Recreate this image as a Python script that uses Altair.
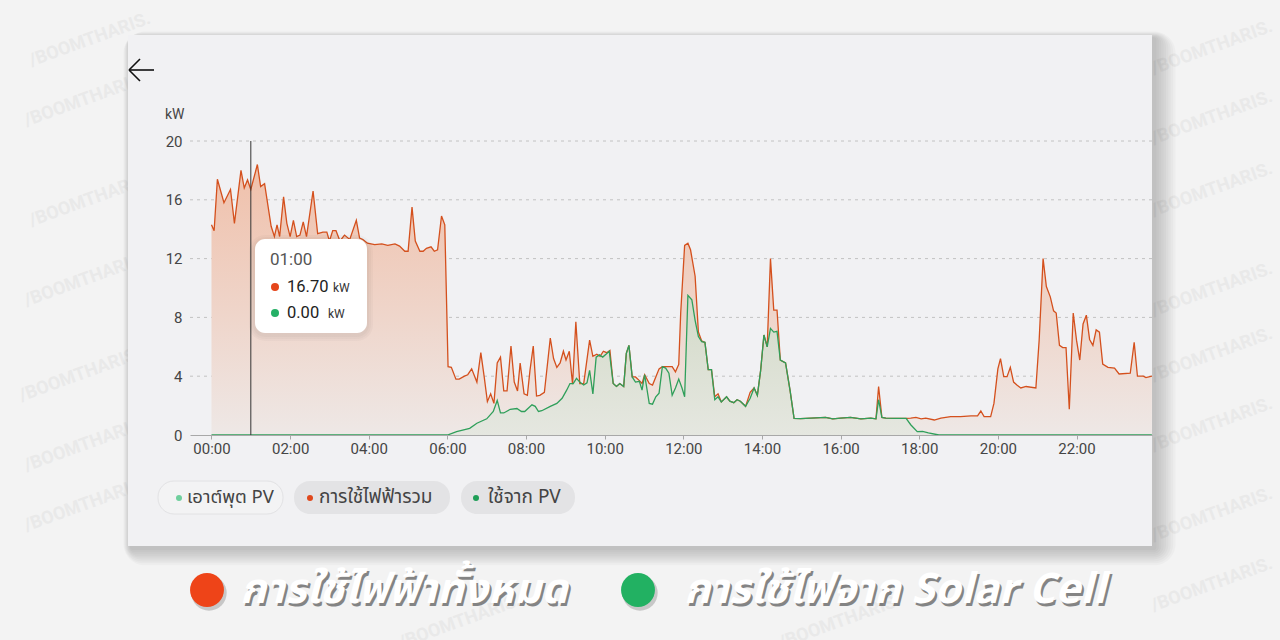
import altair as alt
import pandas as pd

# ---------------- data ----------------
total_time = ["00:00","00:04","00:09","00:19","00:29","00:35","00:45","00:50","00:55","01:00",
              "01:10","01:15","01:21","01:31","01:36","01:40","01:44","01:50","01:55","02:00",
              "02:05","02:10","02:15","02:20","02:25","02:35","02:42","02:50","02:56","03:00",
              "03:05","03:10","03:16","03:23","03:31","03:41","03:46","03:51","03:58","04:09",
              "04:20","04:29","04:40","04:47","04:55","05:00","05:06","05:11","05:18","05:23",
              "05:28","05:35","05:40","05:45","05:51","05:56","06:01","06:06","06:13","06:18",
              "06:26","06:31","06:37","06:45","06:51","06:56","07:01","07:06","07:11","07:16",
              "07:21","07:26","07:31","07:37","07:42","07:47","07:51","07:57","08:02","08:06",
              "08:11","08:16","08:21","08:28","08:37","08:42","08:47","08:52","08:57","09:01",
              "09:06","09:11","09:16","09:22","09:28","09:37","09:42","09:48","09:53","09:58",
              "10:03","10:08","10:13","10:18","10:23","10:29","10:33","10:37","10:42","10:47",
              "10:53","10:57","11:01","11:08","11:13","11:18","11:23","11:28","11:33","11:38",
              "11:43","11:48","11:53","11:56","12:02","12:07","12:11","12:18","12:23","12:28",
              "12:33","12:38","12:43","12:48","12:53","12:58","13:06","13:11","13:17","13:22",
              "13:27","13:35","13:42","13:48","13:53","13:58","14:03","14:08","14:13","14:18",
              "14:23","14:28","14:36","14:43","14:49","14:59","15:15","15:37","15:48","16:00",
              "16:15","16:31","16:46","16:54","16:58","17:03","17:09","17:24","17:40","17:47",
              "17:55","18:03","18:10","18:23","18:33","18:48","19:03","19:19","19:29","19:34",
              "19:39","19:49","19:54","20:00","20:04","20:09","20:14","20:19","20:24","20:29",
              "20:35","20:43","20:58","21:03","21:09","21:14","21:20","21:25","21:29","21:34",
              "21:39","21:44","21:49","21:55","22:00","22:05","22:10","22:15","22:20","22:25",
              "22:30","22:35","22:40","22:48","22:58","23:05","23:22","23:28","23:33","23:42",
              "23:46","23:55"]
total_kw = [14.3,13.9,17.4,15.8,16.7,14.4,18.0,16.8,17.35,16.7,
            18.4,16.9,17.1,14.2,13.5,14.3,13.5,16.2,14.4,13.5,
            14.6,13.5,13.6,14.5,13.5,16.6,13.7,13.8,13.8,13.2,
            13.9,13.9,13.2,13.6,13.3,14.6,13.4,13.3,13.05,12.95,
            13.0,12.9,13.0,12.85,12.5,12.5,15.5,13.2,12.5,12.5,
            12.7,12.8,12.5,12.6,14.9,14.3,4.65,4.6,3.8,3.8,
            4.0,4.1,4.5,3.6,5.6,4.0,2.27,2.8,2.15,4.9,
            5.3,3.0,3.0,6.05,3.6,3.0,4.9,2.8,2.7,4.4,
            6.05,2.65,2.7,2.9,6.6,5.2,4.6,4.9,5.7,5.1,
            5.7,3.45,7.7,3.5,3.5,6.45,5.35,5.5,5.35,5.7,
            5.6,5.75,3.5,3.3,3.5,3.3,5.55,6.1,3.95,3.95,
            3.7,3.5,4.1,3.5,3.4,3.95,4.5,4.65,4.65,4.65,
            4.65,4.3,4.8,8.3,12.9,13.05,12.6,10.8,7.0,6.4,
            6.3,4.45,4.45,2.6,2.8,2.25,2.6,2.3,2.2,2.4,
            2.3,1.95,2.9,3.2,2.7,4.4,6.8,6.0,12.0,8.5,
            8.5,5.1,4.9,3.0,1.13,1.12,1.15,1.2,1.1,1.15,
            1.2,1.1,1.15,1.1,3.3,1.2,1.15,1.13,1.13,1.15,
            1.2,1.1,1.15,1.02,1.15,1.25,1.25,1.3,1.3,1.63,
            1.25,1.25,2.15,4.5,5.2,3.97,3.97,4.6,3.6,3.4,
            3.2,3.3,3.2,6.45,12.0,10.1,9.4,8.45,8.3,6.1,
            5.95,5.95,1.75,8.3,6.45,5.1,7.55,8.15,6.5,6.1,
            7.15,7.0,4.83,4.6,4.55,4.15,4.2,6.3,4.0,4.0,
            3.9,4.0]

pv_time = ["00:00","06:00","06:14","06:34","06:45","07:00","07:10","07:16","07:21","07:26",
           "07:36","07:46","07:53","07:58","08:09","08:14","08:19","08:24","08:37","08:47",
           "08:55","09:02","09:07","09:12","09:17","09:22","09:28","09:33","09:37","09:42",
           "09:47","09:52","09:57","10:02","10:07","10:13","10:18","10:23","10:29","10:33",
           "10:37","10:42","10:47","10:53","10:57","11:01","11:08","11:13","11:18","11:23",
           "11:28","11:33","11:38","11:43","11:48","11:53","11:58","12:02","12:07","12:13",
           "12:18","12:23","12:28","12:33","12:38","12:43","12:48","12:53","12:58","13:06",
           "13:11","13:17","13:22","13:27","13:35","13:42","13:48","13:53","13:58","14:03",
           "14:08","14:13","14:18","14:23","14:28","14:36","14:43","14:49","14:59","15:15",
           "15:37","15:48","16:00","16:15","16:31","16:46","16:54","16:58","17:03","17:09",
           "17:24","17:40","17:47","17:57","18:05","18:14","18:30","23:55"]
pv_kw = [0,0,0.23,0.45,0.8,1.1,1.6,2.35,1.5,1.5,
         1.75,1.8,1.6,1.6,2.05,1.95,1.6,1.65,1.95,2.15,
         2.5,3.05,3.5,3.5,3.85,3.6,3.4,3.55,4.4,2.8,
         5.3,5.45,5.3,5.5,5.7,3.5,3.3,3.5,3.3,5.55,
         6.1,3.95,3.6,3.65,3.05,4.1,2.15,2.1,2.6,2.85,
         4.65,4.55,4.2,2.7,3.2,3.8,3.2,2.6,9.5,9.2,
         7.8,6.7,6.35,6.3,4.45,4.45,2.4,2.6,2.25,2.6,
         2.3,2.2,2.4,2.3,1.95,2.5,3.2,2.7,4.4,6.8,
         6.0,7.25,7.0,7.05,5.1,4.9,3.0,1.13,1.12,1.15,
         1.2,1.1,1.15,1.2,1.1,1.15,1.1,2.4,1.2,1.15,
         1.13,1.13,0.7,0.23,0.25,0.15,0,0]

x_ticks = ["00:00","02:00","04:00","06:00","08:00","10:00","12:00","14:00","16:00","18:00","20:00","22:00"]
y_ticks = [0, 4, 8, 12, 16, 20]
grid_values = [4, 8, 12, 16, 20]

hover_time = "01:00"
hover_total = 16.70
hover_pv = 0.00

chip_labels = ["เอาต์พุต PV", "การใช้ไฟฟ้ารวม", "ใช้จาก PV"]
big_labels = ["การใช้ไฟฟ้าทั้งหมด", "การใช้ไฟจาก Solar Cell"]
watermark = "/BOOMTHARIS."


def to_min(s):
    h, m = s.split(":")
    return int(h) * 60 + int(m)


df_total = pd.DataFrame({"t": [to_min(s) for s in total_time], "kw": total_kw})
df_pv = pd.DataFrame({"t": [to_min(s) for s in pv_time], "kw": pv_kw})
df_grid = pd.DataFrame({"g": grid_values})
df_hover = pd.DataFrame({"t": [to_min(hover_time)]})
one = pd.DataFrame({"a": [0]})

# ---------------- style ----------------
RED = "#d4501d"
GREEN = "#2f9f5a"
TEXT = "#454545"
THAI = "Noto Sans Thai, Noto Sans, sans-serif"
FONT = "Roboto, Noto Sans Thai, sans-serif"

W, H = 962, 294
xscale = alt.Scale(domain=[-32.8, 1435.2], nice=False, zero=False)
yscale = alt.Scale(domain=[0, 20], nice=False, zero=True)


def px_rect(x, x2, y, y2, **mk):
    return alt.Chart(one).mark_rect(**mk).encode(
        x=alt.value(x), x2=alt.value(x2), y=alt.value(y), y2=alt.value(y2))


def px_text(x, y, text, **mk):
    return alt.Chart(one).mark_text(text=text, **mk).encode(x=alt.value(x), y=alt.value(y))


def px_dot(x, y, color, size, opacity=1):
    return alt.Chart(one).mark_circle(color=color, opacity=opacity, size=size).encode(
        x=alt.value(x), y=alt.value(y))


def px_rule(x, x2, y, y2, **mk):
    return alt.Chart(one).mark_rule(**mk).encode(
        x=alt.value(x), x2=alt.value(x2), y=alt.value(y), y2=alt.value(y2))


layers = []

# faint watermark on the page background, behind the card
wm_pts = [(90, 40), (1212, 48), (85, 100), (1212, 118), (90, 200),
          (1212, 190), (85, 280), (1212, 290), (80, 375), (1212, 355),
          (85, 445), (1212, 425), (85, 505), (1212, 515), (1212, 585), (460, 622), (840, 622)]
df_wm = pd.DataFrame({"px": [p[0] - 190 for p in wm_pts], "py": [p[1] - 141 for p in wm_pts]})
layers.append(alt.Chart(df_wm).mark_text(text=watermark, angle=340, fontSize=18, fontWeight="bold",
                                         font=FONT, color="#e9e9e9").encode(
    x=alt.X("px:Q", scale=None), y=alt.Y("py:Q", scale=None)))

# card shadow + card
CX0, CX1, CY0, CY1 = -62, 962, -106, 405
for i in range(9):
    e = 2.4 * (i + 1)
    layers.append(px_rect(CX0 - e * 0.35 + 3, CX1 + e + 2, CY0 - e * 0.3 + 3, CY1 + e * 0.8 + 2,
                          color="#000000", opacity=0.022, cornerRadius=e))
layers.append(px_rect(CX0, CX1, CY0, CY1, color="#f1f1f3"))

# grid lines
layers.append(alt.Chart(df_grid).mark_rule(color="#c2c2c2", strokeDash=[3, 4], strokeWidth=1).encode(
    y=alt.Y("g:Q", scale=yscale)))

x_enc = alt.X("t:Q", scale=xscale, title=None,
              axis=alt.Axis(values=[to_min(s) for s in x_ticks],
                            labelExpr="(datum.value < 600 ? '0' : '') + floor(datum.value/60) + ':00'",
                            grid=False, domain=True, domainColor="#a8a8a8", ticks=True, tickSize=4,
                            tickColor="#a8a8a8", labelFontSize=15, labelColor=TEXT, labelFont=FONT,
                            labelPadding=2, zindex=1))
y_enc = alt.Y("kw:Q", scale=yscale, title=None,
              axis=alt.Axis(values=y_ticks, grid=False, domain=False, ticks=False, labelFontSize=15,
                            labelColor=TEXT, labelFont=FONT, labelPadding=8, zindex=1))

red_grad = alt.Gradient(gradient="linear", x1=1, x2=1, y1=0, y2=1,
                        stops=[alt.GradientStop(color="#f0c0aa", offset=0),
                               alt.GradientStop(color="#efd5ca", offset=0.55),
                               alt.GradientStop(color="#eee8e6", offset=1)])
green_grad = alt.Gradient(gradient="linear", x1=1, x2=1, y1=0, y2=1,
                          stops=[alt.GradientStop(color="#d3dac8", offset=0),
                                 alt.GradientStop(color="#e5e7e0", offset=1)])

layers.append(alt.Chart(df_total).mark_area(color=red_grad, interpolate="linear").encode(x=x_enc, y=y_enc))
layers.append(alt.Chart(df_pv).mark_area(color=green_grad, interpolate="linear").encode(x=x_enc, y=y_enc))
layers.append(alt.Chart(df_total).mark_line(color=RED, strokeWidth=1.3).encode(x=x_enc, y=y_enc))
layers.append(alt.Chart(df_pv).mark_line(color=GREEN, strokeWidth=1.3).encode(x=x_enc, y=y_enc))

# hover line
layers.append(alt.Chart(df_hover).mark_rule(color="#333333", strokeWidth=1).encode(
    x=alt.X("t:Q", scale=xscale), y=alt.datum(0, scale=yscale), y2=alt.datum(20)))

# tooltip box
for i in range(3):
    d = 2 * (i + 1)
    layers.append(px_rect(65 - d, 177 + d, 98 - d + 2, 192 + d + 2, color="#000000", opacity=0.022,
                          cornerRadius=10 + d))
layers.append(px_rect(65, 177, 98, 192, color="#ffffff", cornerRadius=10))
layers.append(px_text(80, 119, hover_time, align="left", baseline="middle", fontSize=17, color="#555555", font=FONT))
layers.append(px_dot(85, 146, "#e5461b", 64))
layers.append(px_text(97, 146, f"{hover_total:.2f}", align="left", baseline="middle", fontSize=16.5, color="#222222", font=FONT))
layers.append(px_text(143, 147, "kW", align="left", baseline="middle", fontSize=12, color="#333333", font=FONT))
layers.append(px_dot(85, 172, "#25b066", 64))
layers.append(px_text(97, 172, f"{hover_pv:.2f}", align="left", baseline="middle", fontSize=16.5, color="#222222", font=FONT))
layers.append(px_text(138, 173, "kW", align="left", baseline="middle", fontSize=12, color="#333333", font=FONT))

# y unit + back arrow
layers.append(px_text(-25, -26, "kW", align="left", baseline="middle", fontSize=14, color=TEXT, font=FONT))
layers.append(px_rule(-61, -36, -71, -71, color="#111111", strokeWidth=1.6))
layers.append(px_rule(-61, -50, -71, -82, color="#111111", strokeWidth=1.6))
layers.append(px_rule(-61, -50, -71, -60, color="#111111", strokeWidth=1.6))

# legend chips in card
layers.append(px_rect(-32, 93, 340, 373, color="#f3f3f4", stroke="#e2e2e4", strokeWidth=1, cornerRadius=16))
layers.append(px_rect(104, 260, 340, 373, color="#e3e3e5", cornerRadius=16))
layers.append(px_rect(271, 385, 340, 373, color="#e3e3e5", cornerRadius=16))
layers.append(px_dot(-11, 357, "#6fcf9d", 36))
layers.append(px_dot(120, 357, "#e0481c", 36))
layers.append(px_dot(286, 357, "#1f9e57", 36))
layers.append(px_text(-3, 356, chip_labels[0], align="left", baseline="middle", fontSize=18.5, color="#444444", font=THAI))
layers.append(px_text(129, 356, chip_labels[1], align="left", baseline="middle", fontSize=19, color="#444444", font=THAI))
layers.append(px_text(298, 356, chip_labels[2], align="left", baseline="middle", fontSize=19, color="#444444", font=THAI))

# big legend under the card
for cx, col in [(17, "#ee4418"), (448, "#22b162")]:
    layers.append(px_dot(cx + 2, 452, "#000000", 1250, opacity=0.18))
    layers.append(px_dot(cx, 449, col, 1150))
for tx, lab in [(50, big_labels[0]), (494, big_labels[1])]:
    layers.append(px_text(tx + 2, 452, lab, align="left", baseline="middle", fontSize=42, fontStyle="italic",
                          fontWeight="bold", color="#000000", opacity=0.45, font=THAI))
    layers.append(px_text(tx, 449, lab, align="left", baseline="middle", fontSize=42, fontStyle="italic",
                          fontWeight="bold", color="#ffffff", font=THAI))

chart = alt.layer(*layers).properties(
    width=W, height=H,
    padding={"left": 190, "top": 141, "right": 128, "bottom": 205},
    autosize="none",
    background="#f3f3f3",
).configure_view(stroke=None)

chart.save("out.html", embed_options={"renderer": "svg", "actions": False})
